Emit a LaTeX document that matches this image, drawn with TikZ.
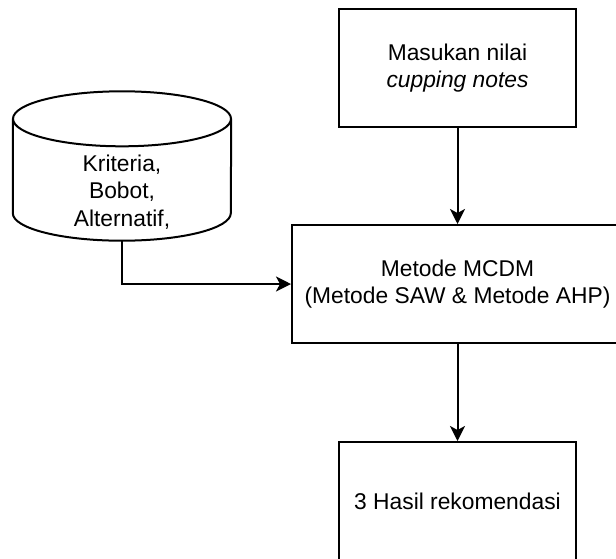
\documentclass[tikz,border=0pt]{standalone}
\usepackage{fontspec}
\setmainfont{Liberation Sans}
\usetikzlibrary{arrows.meta}
\begin{document}
\begin{tikzpicture}[x=1pt,y=-1pt,
  lbl/.style={font=\fontsize{22.8}{27.4}\selectfont, align=center, inner sep=0pt},
  box/.style={draw=black, line width=2pt, inner sep=0pt, lbl},
  edge/.style={line width=2pt},
  conn/.style={line width=2pt, -{Stealth[length=15pt,width=15pt,inset=4pt]}}]
\useasboundingbox (0,0) rectangle (616,558);
\clip (0,0) rectangle (616,558);
% boxes
\node[box, minimum width=237pt, minimum height=118pt] (inp) at (457.5,68) {Masukan nilai\\\textit{cupping notes}};
\node[box, minimum width=331pt, minimum height=118pt] (mcdm) at (457.5,284) {Metode MCDM\\(Metode SAW \& Metode AHP)};
\node[box, minimum width=237pt, minimum height=118pt] (hasil) at (457.5,501) {3 Hasil rekomendasi};
% database cylinder
\node[minimum width=218pt, minimum height=149pt, inner sep=0pt] (db) at (122,166) {};
\draw[edge] ([yshift=-27.5pt]db.north west) -- ([yshift=27.5pt]db.south west)
  arc[start angle=180, end angle=360, x radius=109pt, y radius=27.5pt]
  -- ([yshift=-27.5pt]db.north east);
\draw[edge] ([yshift=-27.5pt]db.north) ellipse[x radius=109pt, y radius=27.5pt];
\node[lbl] (dbtxt) at (122,192) {Kriteria,\\Bobot,\\Alternatif,};
% connectors
\draw[conn] (inp) -- (mcdm);
\draw[conn] (mcdm) -- (hasil);
\draw[conn] (db.south) |- (mcdm.west);
\end{tikzpicture}
\end{document}
